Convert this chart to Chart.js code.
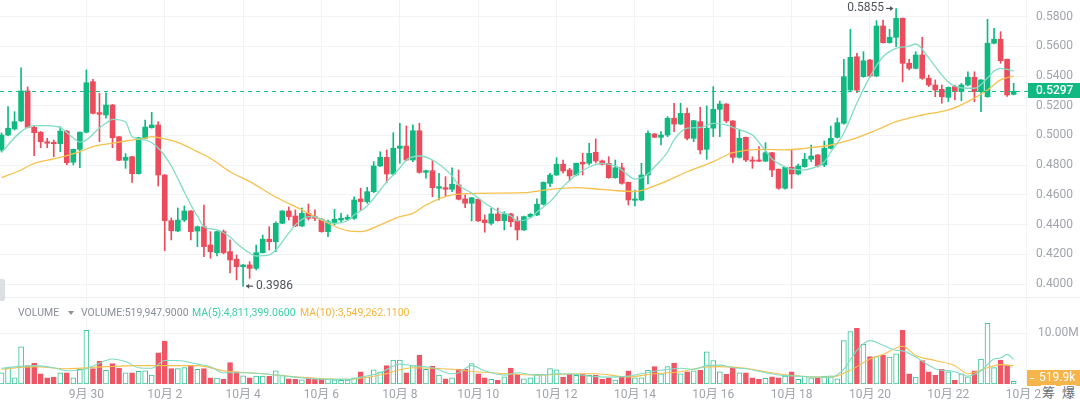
<!DOCTYPE html>
<html>
<head>
<meta charset="utf-8">
<title>K-line 4h</title>
<style>
  body { margin: 0; background: #fff; }
  #wrap { position: relative; width: 1080px; height: 404px; overflow: hidden; background: #fff;
          font-family: Roboto, "Noto Sans CJK SC", sans-serif; }
  canvas { position: absolute; left: 0; }
  .sep { position: absolute; left: 0; top: 297px; width: 1080px; height: 1px; background: #eceef1; }
  .lg { position: absolute; top: 306px; font-size: 10.5px; line-height: 14px; color: #8a8f98; white-space: nowrap; }
  .caret { position: absolute; left: 68px; top: 311px; width: 0; height: 0;
           border-left: 3px solid transparent; border-right: 3px solid transparent; border-top: 4px solid #8a8f98; }
  .ico { position: absolute; top: 385px; font-size: 13px; line-height: 16px; color: #6b6f76; background: #fff; padding: 0 1px; }
  .handle { position: absolute; left: 0; top: 279px; width: 5px; height: 22px; background: #dcdfe3; border-radius: 0 2px 2px 0; }
</style>
<script src="https://cdn.jsdelivr.net/npm/chart.js@4.4.1/dist/chart.umd.min.js"></script>
</head>
<body>
<div id="wrap">
  <canvas id="price" width="1080" height="297" style="top:0;width:1080px;height:297px"></canvas>
  <div class="sep"></div>
  <canvas id="vol" width="1080" height="107" style="top:297px;width:1080px;height:107px"></canvas>
  <div class="lg" style="left:18px">VOLUME</div>
  <div class="caret"></div>
  <div class="lg" style="left:81px">VOLUME:519,947.9000</div>
  <div class="lg" style="left:192px;color:#3ecfa6">MA(5):4,811,399.0600</div>
  <div class="lg" style="left:300px;color:#f3b53a">MA(10):3,549,262.1100</div>
  <div class="ico" style="left:1041px">筹</div>
  <div class="ico" style="left:1061px">爆</div>
  <div class="handle"></div>
</div>
<script>
// 4h candles, index 0 = 9/27 20:00 ... index 155 = 10/23 16:00
const opens = [
  0.4903,0.5003,0.5044,0.5098,0.5300,0.5055,0.5022,0.4958,0.4954,0.4945,
  0.5030,0.4820,0.4907,0.5022,0.5362,0.5154,0.5138,0.5205,0.4992,0.4833,
  0.4857,0.4743,0.4981,0.5053,0.5071,0.4734,0.4427,0.4357,0.4431,0.4492,
  0.4357,0.4386,0.4263,0.4211,0.4353,0.4218,0.4167,0.4117,0.4129,0.4106,
  0.4211,0.4302,0.4285,0.4409,0.4492,0.4458,0.4391,0.4476,0.4454,0.4436,
  0.4353,0.4413,0.4431,0.4436,0.4443,0.4573,0.4555,0.4622,0.4795,0.4853,
  0.4741,0.4914,0.4929,0.4835,0.5032,0.4752,0.4763,0.4645,0.4649,0.4638,
  0.4667,0.4573,0.4544,0.4571,0.4431,0.4409,0.4472,0.4427,0.4472,0.4427,
  0.4364,0.4454,0.4465,0.4537,0.4678,0.4734,0.4806,0.4768,0.4734,0.4820,
  0.4813,0.4887,0.4829,0.4813,0.4716,0.4783,0.4685,0.4564,0.4566,0.4734,
  0.5010,0.4988,0.5003,0.5116,0.5077,0.5149,0.4981,0.5093,0.4907,0.5049,
  0.5176,0.5212,0.5098,0.4853,0.4988,0.4835,0.4835,0.4827,0.4884,0.4773,
  0.4645,0.4786,0.4741,0.4790,0.4840,0.4869,0.4802,0.4914,0.4988,0.5082,
  0.5306,0.5530,0.5396,0.5508,0.5400,0.5737,0.5625,0.5661,0.5789,0.5486,
  0.5452,0.5542,0.5385,0.5340,0.5311,0.5257,0.5329,0.5295,0.5340,0.5392,
  0.5295,0.5261,0.5621,0.5648,0.5513,0.5277
];
const highs = [
  0.5017,0.5194,0.5160,0.5456,0.5327,0.5066,0.5027,0.4981,0.4970,0.5059,
  0.5034,0.4909,0.5024,0.5441,0.5378,0.5284,0.5288,0.5209,0.4993,0.4878,
  0.4860,0.4988,0.5104,0.5156,0.5093,0.4737,0.4445,0.4512,0.4526,0.4495,
  0.4391,0.4532,0.4353,0.4357,0.4364,0.4297,0.4196,0.4132,0.4151,0.4263,
  0.4330,0.4386,0.4420,0.4495,0.4519,0.4499,0.4512,0.4539,0.4499,0.4443,
  0.4431,0.4503,0.4476,0.4465,0.4588,0.4645,0.4651,0.4824,0.4891,0.4903,
  0.5019,0.5082,0.5064,0.5071,0.5082,0.4767,0.4831,0.4746,0.4723,0.4783,
  0.4768,0.4600,0.4584,0.4573,0.4465,0.4510,0.4512,0.4487,0.4476,0.4454,
  0.4458,0.4475,0.4573,0.4688,0.4746,0.4851,0.4835,0.4779,0.4815,0.4880,
  0.4948,0.4977,0.4835,0.4857,0.4835,0.4813,0.4687,0.4633,0.4813,0.5032,
  0.5014,0.5026,0.5127,0.5217,0.5217,0.5185,0.5101,0.5190,0.5199,0.5329,
  0.5232,0.5215,0.5101,0.5037,0.4990,0.4857,0.4925,0.4952,0.4887,0.4775,
  0.4788,0.4903,0.4808,0.4880,0.4936,0.4872,0.4963,0.5064,0.5118,0.5513,
  0.5715,0.5553,0.5564,0.5512,0.5773,0.5777,0.5715,0.5855,0.5791,0.5513,
  0.5564,0.5661,0.5407,0.5374,0.5340,0.5327,0.5340,0.5351,0.5429,0.5429,
  0.5377,0.5782,0.5722,0.5699,0.5515,0.5351
];
const lows = [
  0.4889,0.4997,0.5037,0.5093,0.5051,0.4864,0.4918,0.4918,0.4857,0.4891,
  0.4802,0.4802,0.4783,0.5017,0.5146,0.4958,0.5116,0.4918,0.4830,0.4779,
  0.4685,0.4740,0.4978,0.5049,0.4660,0.4225,0.4297,0.4353,0.4420,0.4297,
  0.4252,0.4184,0.4174,0.4189,0.4203,0.4075,0.4028,0.3986,0.4039,0.4095,
  0.4209,0.4229,0.4218,0.4406,0.4431,0.4386,0.4386,0.4431,0.4427,0.4349,
  0.4319,0.4398,0.4413,0.4427,0.4436,0.4494,0.4544,0.4615,0.4790,0.4682,
  0.4734,0.4813,0.4829,0.4824,0.4746,0.4712,0.4588,0.4566,0.4588,0.4622,
  0.4566,0.4514,0.4425,0.4421,0.4349,0.4398,0.4423,0.4364,0.4386,0.4297,
  0.4361,0.4448,0.4460,0.4532,0.4656,0.4731,0.4746,0.4694,0.4728,0.4734,
  0.4802,0.4815,0.4802,0.4712,0.4712,0.4672,0.4532,0.4526,0.4561,0.4674,
  0.4985,0.4936,0.4992,0.5026,0.5074,0.4970,0.4958,0.4876,0.4840,0.4992,
  0.4992,0.5086,0.4817,0.4847,0.4824,0.4779,0.4824,0.4824,0.4723,0.4638,
  0.4638,0.4645,0.4734,0.4786,0.4824,0.4788,0.4790,0.4909,0.4983,0.5077,
  0.5302,0.5288,0.5392,0.5392,0.5396,0.5621,0.5621,0.5598,0.5362,0.5441,
  0.5448,0.5378,0.5329,0.5261,0.5217,0.5228,0.5239,0.5234,0.5333,0.5228,
  0.5160,0.5257,0.5616,0.5486,0.5263,0.5273
];
const closes = [
  0.5003,0.5049,0.5093,0.5300,0.5055,0.5019,0.4958,0.4948,0.4945,0.5030,
  0.4817,0.4907,0.5022,0.5355,0.5149,0.5143,0.5205,0.4985,0.4833,0.4853,
  0.4743,0.4985,0.5057,0.5071,0.4734,0.4427,0.4359,0.4431,0.4492,0.4353,
  0.4386,0.4252,0.4218,0.4353,0.4211,0.4162,0.4117,0.4129,0.4106,0.4211,
  0.4302,0.4285,0.4409,0.4492,0.4454,0.4391,0.4476,0.4443,0.4443,0.4353,
  0.4420,0.4436,0.4443,0.4450,0.4566,0.4555,0.4622,0.4795,0.4853,0.4741,
  0.4914,0.4929,0.4835,0.5032,0.4752,0.4763,0.4649,0.4656,0.4638,0.4672,
  0.4571,0.4544,0.4581,0.4425,0.4413,0.4472,0.4427,0.4472,0.4420,0.4364,
  0.4454,0.4470,0.4537,0.4685,0.4734,0.4806,0.4761,0.4728,0.4813,0.4808,
  0.4880,0.4829,0.4806,0.4716,0.4783,0.4678,0.4566,0.4573,0.4734,0.5015,
  0.4988,0.5003,0.5116,0.5077,0.5149,0.4981,0.5100,0.4903,0.5049,0.5176,
  0.5212,0.5098,0.4853,0.4981,0.4835,0.4827,0.4827,0.4884,0.4768,0.4645,
  0.4786,0.4741,0.4795,0.4840,0.4862,0.4795,0.4914,0.4981,0.5086,0.5396,
  0.5526,0.5306,0.5503,0.5400,0.5737,0.5625,0.5661,0.5789,0.5486,0.5452,
  0.5542,0.5385,0.5340,0.5306,0.5261,0.5324,0.5295,0.5340,0.5392,0.5295,
  0.5374,0.5621,0.5648,0.5503,0.5273,0.5297
];
// volume in millions
const volumes = [
  2.2,3.1,1.2,7.3,3.6,4.1,2.0,1.2,1.35,2.2,
  2.2,1.2,2.9,10.5,3.0,4.5,2.7,4.0,3.1,2.2,
  2.2,2.5,2.6,1.75,6.1,8.4,3.0,3.0,3.2,3.6,
  2.9,3.0,1.2,1.15,0.9,4.2,2.4,1.6,1.2,1.55,
  1.55,1.5,2.6,1.75,1.0,0.9,0.8,1.2,0.95,0.95,
  0.9,0.8,0.7,0.75,1.2,2.4,1.35,2.8,2.4,3.6,
  4.7,4.7,2.2,3.6,5.6,2.9,3.5,1.75,1.0,1.2,
  2.9,2.9,4.0,2.0,1.2,0.9,0.7,1.4,3.1,1.9,
  1.0,1.2,1.9,1.9,3.0,2.8,1.35,1.9,1.7,1.9,
  1.7,1.75,0.9,1.2,0.75,1.35,2.6,1.2,1.2,2.7,
  3.4,2.0,3.4,4.1,2.0,2.4,2.6,2.7,6.3,4.6,
  2.4,1.9,3.2,2.2,2.2,1.2,0.9,1.1,1.4,1.2,
  1.55,2.4,0.9,1.55,1.2,1.2,1.55,1.6,1.0,8.5,
  10.3,10.9,7.8,5.4,5.4,5.6,5.3,5.9,10.5,2.0,
  1.35,4.6,2.4,1.75,2.9,2.4,0.7,2.0,1.4,2.6,
  4.9,11.9,3.2,4.7,3.7,0.52
];

// moving average lines at these candle indices
const maFastIdx = [0,3,5,7,9,11,12,13,15,16,17,19,20,22,24,26,28,29,30,31,33,35,36,38,39,41,42,44,45,47,48,50,51,53,54,56,58,59,61,62,64,66,69,70,72,74,76,78,79,81,82,84,86,88,90,92,94,95,97,99,100,102,103,105,107,109,111,112,114,115,117,118,120,121,123,124,126,127,129,131,133,135,137,139,140,142,143,145,146,148,149,151,152,153,155];
const maFastVal = [0.4887,0.5026,0.5066,0.5067,0.5053,0.4983,0.4956,0.4970,0.5051,0.5082,0.5108,0.5091,0.4992,0.4970,0.4916,0.4795,0.4620,0.4532,0.4458,0.4386,0.4364,0.4317,0.4275,0.4209,0.4189,0.4196,0.4229,0.4344,0.4398,0.4454,0.4452,0.4418,0.4409,0.4428,0.4465,0.4526,0.4633,0.4689,0.4781,0.4835,0.4862,0.4835,0.4728,0.4667,0.4613,0.4546,0.4492,0.4458,0.4425,0.4445,0.4485,0.4555,0.4656,0.4734,0.4788,0.4813,0.4795,0.4768,0.4707,0.4741,0.4788,0.4889,0.4970,0.5049,0.5054,0.5081,0.5071,0.5055,0.5024,0.5003,0.4896,0.4842,0.4788,0.4773,0.4768,0.4778,0.4822,0.4889,0.5017,0.5219,0.5396,0.5530,0.5587,0.5602,0.5616,0.5522,0.5463,0.5360,0.5333,0.5318,0.5318,0.5387,0.5434,0.5452,0.5434];
const maSlowIdx = [0,3,5,8,10,12,14,17,19,22,23,25,27,30,32,35,38,42,46,49,53,55,58,61,63,65,69,73,80,84,88,91,94,97,101,105,109,112,117,120,123,127,130,134,137,141,145,148,151,153,155];
const maSlowVal = [0.4716,0.4768,0.4813,0.4842,0.4864,0.4891,0.4925,0.4948,0.4963,0.4983,0.4993,0.4977,0.4954,0.4891,0.4847,0.4756,0.4690,0.4586,0.4499,0.4431,0.4359,0.4353,0.4398,0.4454,0.4476,0.4532,0.4600,0.4611,0.4615,0.4638,0.4649,0.4640,0.4629,0.4623,0.4678,0.4756,0.4824,0.4884,0.4907,0.4903,0.4914,0.4936,0.4970,0.5037,0.5093,0.5138,0.5172,0.5228,0.5306,0.5374,0.5400];
const volMa5Idx = [0,5,8,10,13,16,17,19,21,23,25,27,30,32,34,37,40,42,45,48,53,55,58,61,63,66,69,70,72,74,77,79,82,85,88,90,93,96,98,101,104,106,108,110,112,114,117,119,122,125,127,129,131,133,135,137,138,140,143,146,148,150,152,153,154,155];
const volMa5Val = [3.1,3.6,3.2,2.6,3.0,4.6,4.9,4.4,3.2,3.1,4.6,4.6,3.9,3.4,2.2,2.2,2.0,1.75,1.35,1.0,0.9,1.35,2.2,3.9,3.6,3.2,2.0,2.2,3.6,2.6,1.75,2.2,1.75,2.0,1.9,1.55,1.35,1.55,2.0,2.7,3.1,2.9,3.6,3.7,3.2,3.0,2.2,1.75,1.55,1.35,1.35,2.9,6.6,8.5,7.6,6.6,6.5,5.3,3.0,2.4,1.55,2.6,4.9,5.1,5.8,4.8];
const volMa10Idx = [0,5,10,16,21,26,30,34,40,45,53,58,63,69,71,79,82,88,91,96,100,104,107,110,114,118,122,127,130,133,135,138,140,143,146,148,151,153,155];
const volMa10Val = [2.9,3.4,3.0,3.4,3.6,3.6,3.6,2.6,2.0,1.4,0.9,1.75,3.2,2.9,2.6,1.9,1.75,2.0,2.0,1.4,2.0,2.4,3.2,3.4,3.1,2.2,1.55,1.35,2.7,4.9,5.8,7.4,5.6,4.6,3.6,2.0,3.2,3.8,3.55];

const tickIndex = [13,25,37,49,61,73,85,97,109,121,133,145,157];
const tickLabels = ['9月 30','10月 2','10月 4','10月 6','10月 8','10月 10','10月 12','10月 14','10月 16','10月 18','10月 20','10月 22','10月 24'];
const priceTicks = [0.40,0.42,0.44,0.46,0.48,0.50,0.52,0.54,0.56,0.58];
const lastPrice = 0.5297;
const lastVolume = 0.519947;

const FONT = 'Roboto, "Noto Sans CJK SC", sans-serif';
const UP = '#0fb981', DOWN = '#ec4b5b';
const VOL_UP = '#35c495', VOL_DOWN = '#ee5665';
const MA_FAST = '#80dcc4', MA_SLOW = '#f8c04c';
const GRID = '#f2f3f5', AXIS_TXT = '#a0a4ab';
const X_MIN = -0.23, X_MAX = 157.2;

const isUp = opens.map((o, i) => closes[i] >= o);
const candleColor = isUp.map(u => u ? UP : DOWN);

function noPad(s) { s.paddingTop = 0; s.paddingBottom = 0; s.paddingLeft = 0; s.paddingRight = 0; }

function xScale(showLabels) {
  return {
    type: 'linear', min: X_MIN, max: X_MAX, offset: false,
    grid: { color: GRID, drawTicks: false, offset: false },
    border: { display: false },
    afterBuildTicks: s => { s.ticks = tickIndex.map(v => ({ value: v })); },
    afterFit: s => { s.height = showLabels ? 20 : 0; noPad(s); },
    ticks: {
      display: showLabels, autoSkip: false, maxRotation: 0, padding: 4,
      color: AXIS_TXT, font: { family: FONT, size: 12 },
      callback: (v, i) => tickLabels[i]
    }
  };
}

function yScale(min, max, ticks, fmt, pad) {
  return {
    type: 'linear', position: 'right', min: min, max: max,
    afterBuildTicks: s => { s.ticks = ticks.map(v => ({ value: v })); },
    afterFit: s => { s.width = 52; noPad(s); },
    grid: { color: GRID, drawTicks: false }, border: { display: false },
    ticks: { padding: pad, color: AXIS_TXT, font: { family: FONT, size: 12 }, callback: fmt }
  };
}

function line(idx, val, color, width) {
  return {
    type: 'line', data: idx.map((x, k) => ({ x: x, y: val[k] })),
    borderColor: color, borderWidth: width, pointRadius: 0,
    cubicInterpolationMode: 'monotone', fill: false, order: 0
  };
}

function arrow(ctx, x1, x2, y) {
  const d = x2 > x1 ? 1 : -1;
  ctx.beginPath(); ctx.moveTo(x1, y); ctx.lineTo(x2, y); ctx.stroke();
  ctx.beginPath(); ctx.moveTo(x2, y); ctx.lineTo(x2 - d * 3, y - 2.5); ctx.lineTo(x2 - d * 3, y + 2.5); ctx.closePath(); ctx.fill();
}

const priceMarks = {
  id: 'priceMarks',
  afterDatasetsDraw(chart) {
    const { ctx, chartArea: a, scales: { x, y } } = chart;
    ctx.save();
    const ly = Math.round(y.getPixelForValue(lastPrice)) + 0.5;
    ctx.strokeStyle = '#19c08a'; ctx.lineWidth = 1.2; ctx.setLineDash([4, 4]);
    ctx.beginPath(); ctx.moveTo(a.left, ly); ctx.lineTo(a.right, ly); ctx.stroke();
    ctx.setLineDash([]);
    ctx.fillStyle = UP;
    ctx.fillRect(a.right, ly - 8.5, chart.width - a.right, 15);
    ctx.fillStyle = '#fff';
    ctx.font = '500 12px ' + FONT; ctx.textBaseline = 'middle'; ctx.textAlign = 'left';
    ctx.fillText(lastPrice.toFixed(4), a.right + 8, ly - 1);

    const hi = Math.max(...highs), lo = Math.min(...lows);
    const hiX = x.getPixelForValue(highs.indexOf(hi)), hiY = y.getPixelForValue(hi);
    const loX = x.getPixelForValue(lows.indexOf(lo)), loY = y.getPixelForValue(lo);
    ctx.fillStyle = '#4f545c'; ctx.strokeStyle = '#4f545c'; ctx.lineWidth = 1.2;
    ctx.font = '12px ' + FONT;
    ctx.textAlign = 'right'; ctx.fillText(hi.toFixed(4), hiX - 12, hiY);
    arrow(ctx, hiX - 10, hiX - 3, hiY);
    ctx.textAlign = 'left'; ctx.fillText(lo.toFixed(4), loX + 13, loY);
    arrow(ctx, loX + 10, loX + 3, loY);
    ctx.restore();
  }
};

const volMarks = {
  id: 'volMarks',
  afterDatasetsDraw(chart) {
    const { ctx, chartArea: a, scales: { y } } = chart;
    ctx.save();
    const cy = Math.min(y.getPixelForValue(lastVolume) - 3, a.bottom - 6);
    ctx.fillStyle = '#f5b54a';
    ctx.fillRect(a.right - 1, cy - 8, chart.width - a.right + 1, 16);
    ctx.strokeStyle = '#fff'; ctx.lineWidth = 1;
    ctx.beginPath(); ctx.moveTo(a.right + 2, Math.round(cy) + 0.5); ctx.lineTo(a.right + 6, Math.round(cy) + 0.5); ctx.stroke();
    ctx.fillStyle = '#fff'; ctx.font = '12px ' + FONT; ctx.textBaseline = 'middle'; ctx.textAlign = 'left';
    ctx.fillText((lastVolume * 1000).toFixed(1) + 'k', a.right + 11, cy);
    ctx.restore();
  }
};

new Chart(document.getElementById('price'), {
  type: 'bar',
  data: {
    datasets: [
      { data: opens.map((o, i) => ({ x: i, y: [lows[i], highs[i]] })), backgroundColor: candleColor,
        barThickness: 1, grouped: false, order: 3 },
      { data: opens.map((o, i) => ({ x: i, y: [o, closes[i]] })), backgroundColor: candleColor,
        barThickness: 5, minBarLength: 1, grouped: false, order: 2 },
      line(maFastIdx, maFastVal, MA_FAST, 1.3),
      line(maSlowIdx, maSlowVal, MA_SLOW, 1.3)
    ]
  },
  options: {
    responsive: false, animation: false, events: [],
    layout: { padding: 0 },
    plugins: { legend: { display: false }, tooltip: { enabled: false } },
    scales: {
      x: xScale(false),
      y: yScale(0.3913, 0.5912, priceTicks, v => v.toFixed(4), 8)
    }
  },
  plugins: [priceMarks]
});

new Chart(document.getElementById('vol'), {
  type: 'bar',
  data: {
    datasets: [
      { data: volumes.map((v, i) => ({ x: i, y: v })),
        backgroundColor: isUp.map(u => u ? '#ffffff' : VOL_DOWN),
        borderColor: isUp.map(u => u ? VOL_UP : VOL_DOWN),
        borderWidth: 1, borderSkipped: false, barThickness: 5, grouped: false, order: 2 },
      line(volMa5Idx, volMa5Val, MA_FAST, 1.1),
      line(volMa10Idx, volMa10Val, MA_SLOW, 1.1)
    ]
  },
  options: {
    responsive: false, animation: false, events: [],
    layout: { padding: 0 },
    plugins: { legend: { display: false }, tooltip: { enabled: false } },
    scales: {
      x: xScale(true),
      y: yScale(0, 17.06, [10], v => v.toFixed(2) + 'M', 10)
    }
  },
  plugins: [volMarks]
});
</script>
</body>
</html>
